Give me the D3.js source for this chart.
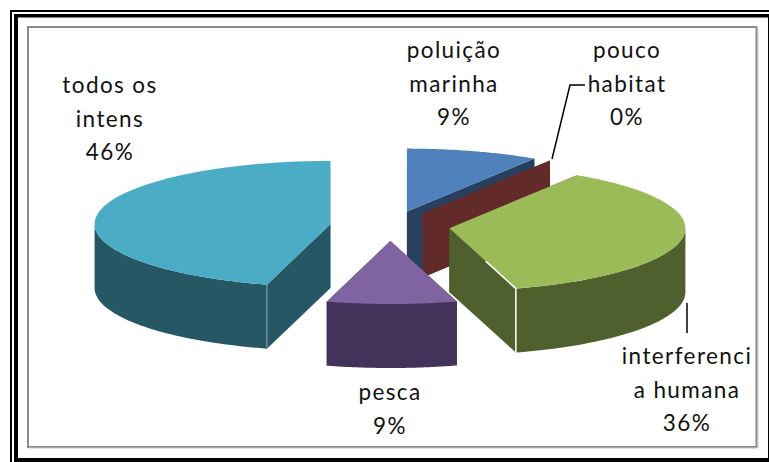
<!DOCTYPE html>
<html>
<head>
<meta charset="utf-8">
<script src="https://cdn.jsdelivr.net/npm/d3@7"></script>
<style>
  html, body { margin: 0; padding: 0; background: #fff; }
  svg { display: block; }
  text { font-family: Lato, "Open Sans", sans-serif; font-size: 22.5px; fill: #111; letter-spacing: 1.4px; text-anchor: middle; }
</style>
</head>
<body>
<div id="graph"></div>
<script>
const categories = ['poluição marinha', 'pouco habitat', 'interferencia humana', 'pesca', 'todos os intens'];
const values = [9.1, 0, 36.4, 8.9, 45.7];
const labelLines = [['poluição', 'marinha'], ['pouco', 'habitat'], ['interferenci', 'a humana'], ['pesca'], ['todos os', 'intens']];
const topColors = ['#4f81bd', '#632a2a', '#9bbb59', '#8064a2', '#4bacc6'];
const sideColors = ['#27405f', '#632a2a', '#4f5f2d', '#43335a', '#265764'];

const width = 769, height = 462;
const cx = 390, cy = 226;     // pie centre before the explosion
const rx = 236, ry = 63, depth = 64;
const explodeX = 60, explodeY = 15;
// label centres, first line baseline + line step
const labelPos = [[454, 58], [627, 58], [687, 364], [390, 400], [110, 93]];
const lineStep = 33.5;

const svg = d3.select('#graph').append('svg')
    .attr('width', width)
    .attr('height', height);

/* frames ------------*/
const frames = svg.append('g').attr('class', 'frames');
[[10, 10, 759, 2], [10, 10, 2, 452], [14, 14, 754, 3.5], [14, 14, 4, 448], [18, 458, 751, 4], [768, 14, 1, 444]]
    .forEach(r => frames.append('rect')
        .attr('x', r[0]).attr('y', r[1]).attr('width', r[2]).attr('height', r[3])
        .attr('fill', '#000'));
frames.append('rect')
    .attr('x', 28).attr('y', 27).attr('width', 728.5).attr('height', 420)
    .attr('fill', 'none')
    .attr('stroke', '#8a8a8a')
    .attr('stroke-width', 2);
frames.append('path')
    .attr('d', 'M758,28V448H29')
    .attr('fill', 'none')
    .attr('stroke', '#c4c4c4')
    .attr('stroke-width', 1);

/* slices ------------*/
const pie = d3.pie().sort(null).value(d => d);
const arcs = pie(values).map((a, i) => {
    const mid = (a.startAngle + a.endAngle) / 2;
    return Object.assign(a, {
        index: i,
        x0: cx + explodeX * Math.sin(mid),
        y0: cy - explodeY * Math.cos(mid)
    });
});

const line = d3.line();

function rim(a, t) {
    return [a.x0 + rx * Math.sin(t), a.y0 - ry * Math.cos(t)];
}
function arcPoints(a, t0, t1) {
    return d3.range(0, 61).map(k => rim(a, t0 + (t1 - t0) * k / 60));
}
function drop(p) {
    return [p[0], p[1] + depth];
}
function cutFace(a, t) {
    const o = [a.x0, a.y0], p = rim(a, t);
    return line([o, p, drop(p), drop(o)]) + 'Z';
}

// back slices first
const ordered = arcs.slice().sort((a, b) => a.y0 - b.y0);
const slices = svg.append('g').attr('class', 'slices')
    .selectAll('g')
    .data(ordered)
    .join('g');

slices.append('path')
    .attr('fill', d => sideColors[d.index])
    .attr('d', d => cutFace(d, d.startAngle));
slices.append('path')
    .attr('fill', d => sideColors[d.index])
    .attr('d', d => cutFace(d, d.endAngle));

// outer wall, only the part that faces the viewer
slices.filter(d => d.endAngle > Math.PI / 2 && d.startAngle < 3 * Math.PI / 2)
    .append('path')
    .attr('fill', d => sideColors[d.index])
    .attr('d', d => {
        const pts = arcPoints(d, Math.max(d.startAngle, Math.PI / 2), Math.min(d.endAngle, 3 * Math.PI / 2));
        return line(pts.concat(pts.map(drop).reverse())) + 'Z';
    });

slices.filter(d => d.value > 0)
    .append('path')
    .attr('fill', d => topColors[d.index])
    .attr('d', d => line([[d.x0, d.y0]].concat(arcPoints(d, d.startAngle, d.endAngle))) + 'Z');

// pale edge where the cut face meets the wall
slices.filter(d => d.index === 2 || d.index === 4)
    .append('path')
    .attr('fill', 'none')
    .attr('stroke', d => d.index === 2 ? '#fff' : '#8fa5ab')
    .attr('stroke-width', d => d.index === 2 ? 1.5 : 1)
    .attr('d', d => {
        const t = d.index === 2 ? d.endAngle : d.startAngle;
        const p = rim(d, t);
        if (d.index === 4) return line([p, drop(p)]);
        // the green slice also has it along the outer half of its cut
        const half = [(d.x0 + p[0] * 1.2) / 2.2, (d.y0 + p[1] * 1.2) / 2.2];
        return line([half, p, drop(p)]);
    });

/* leader lines ------------*/
const leaders = svg.append('g').attr('class', 'leaders');
leaders.append('path')
    .attr('d', 'M552,159L570,85H585')
    .attr('fill', 'none').attr('stroke', '#000').attr('stroke-width', 1.5);
leaders.append('path')
    .attr('d', 'M687,303V333')
    .attr('fill', 'none').attr('stroke', '#000').attr('stroke-width', 1.5);

/* labels ------------*/
const labels = svg.append('g').attr('class', 'labels')
    .selectAll('text')
    .data(categories)
    .join('text')
    .attr('transform', (d, i) => `translate(${labelPos[i][0]},${labelPos[i][1]})`);

labels.each(function(d, i) {
    const lines = labelLines[i].concat(Math.round(values[i]) + '%');
    d3.select(this).selectAll('tspan')
        .data(lines)
        .join('tspan')
        .attr('x', 0)
        .attr('y', (l, k) => k * lineStep)
        .text(l => l);
});
</script>
</body>
</html>
